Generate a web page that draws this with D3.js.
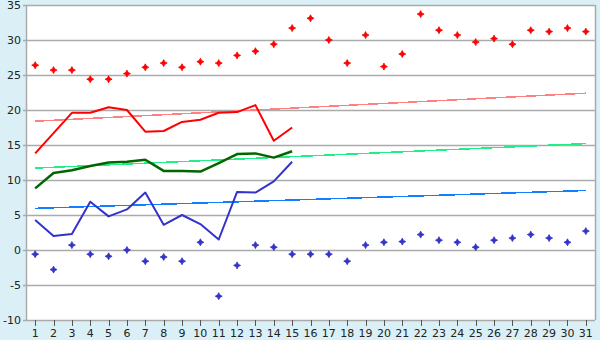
<!DOCTYPE html>
<html>
<head>
<meta charset="utf-8">
<script src="https://cdn.jsdelivr.net/npm/d3@7"></script>
<style>
  body { margin: 0; background: #daf0f6; }
  svg text { font-family: "DejaVu Sans", Verdana, sans-serif; font-size: 11px; fill: #222; }
</style>
</head>
<body>
<div id="chart"></div>
<script>
var width = 600,
  height = 340;

// days of the month
var days = d3.range(1, 32);
var yTicks = [35, 30, 25, 20, 15, 10, 5, 0, -5, -10];

// record highs / lows per day (markers)
var recordMax = [26.4, 25.7, 25.7, 24.4, 24.4, 25.2, 26.1, 26.7, 26.1, 26.9,
  26.7, 27.8, 28.4, 29.4, 31.7, 33.1, 30.0, 26.7, 30.7, 26.2,
  28.0, 33.7, 31.4, 30.7, 29.7, 30.2, 29.4, 31.4, 31.2, 31.7, 31.2];
var recordMin = [-0.6, -2.8, 0.7, -0.6, -0.9, 0.0, -1.6, -1.0, -1.6, 1.1,
  -6.6, -2.2, 0.7, 0.4, -0.6, -0.6, -0.6, -1.6, 0.7, 1.1,
  1.2, 2.2, 1.4, 1.1, 0.4, 1.4, 1.7, 2.2, 1.7, 1.1, 2.7];

// current month (days 1-15)
var curMax = [13.8, 16.7, 19.6, 19.6, 20.4, 20.0, 16.9, 17.0, 18.3, 18.6,
  19.6, 19.7, 20.7, 15.6, 17.5];
var curMean = [8.8, 11.0, 11.4, 12.0, 12.5, 12.6, 12.9, 11.3, 11.3, 11.2,
  12.4, 13.7, 13.8, 13.2, 14.1];
var curMin = [4.3, 2.0, 2.3, 6.9, 4.8, 5.8, 8.2, 3.6, 5.0, 3.7,
  1.5, 8.3, 8.2, 9.8, 12.6];

// normals: start and end values for day 1 and day 31
var normMax = [18.4, 22.4];
var normMean = [11.7, 15.2];
var normMin = [5.95, 8.5];

var svg = d3.select("#chart")
  .append("svg")
  .attr("width", width)
  .attr("height", height)
  .style("display", "block");

var plotL = 26, plotR = 595, plotT = 5, plotB = 320;

var x = d3.scaleBand()
  .domain(days)
  .range([plotL, plotR]);

var y = d3.scaleLinear()
  .domain([-10, 35])
  .range([plotB, plotT]);

function cx(d) { return x(d) + x.bandwidth() / 2; }

// plot background
svg.append("rect")
  .attr("x", plotL).attr("y", plotT)
  .attr("width", plotR - plotL).attr("height", plotB - plotT)
  .attr("fill", "#ffffff");

// grid lines
svg.append("g")
  .selectAll("line")
  .data(yTicks)
  .enter()
  .append("line")
  .attr("x1", plotL - 3).attr("x2", plotR)
  .attr("y1", function(d){ return Math.round(y(d)) + 0.5; })
  .attr("y2", function(d){ return Math.round(y(d)) + 0.5; })
  .attr("stroke", "#aaaaaa")
  .attr("stroke-width", 1.5);

// frame
svg.append("path")
  .attr("d", "M" + (plotL + 0.5) + "," + plotT + "V" + plotB + "M" + (plotR + 0.5) + "," + plotT + "V" + plotB)
  .attr("stroke", "#aaaaaa")
  .attr("stroke-width", 1.5)
  .attr("fill", "none");

// y labels
svg.append("g")
  .selectAll("text")
  .data(yTicks)
  .enter()
  .append("text")
  .attr("x", 21)
  .attr("y", function(d){ return y(d) + 4; })
  .attr("text-anchor", "end")
  .text(function(d){ return d; });

// x ticks and labels
var xAxis = svg.append("g");
xAxis.selectAll("line")
  .data(days)
  .enter()
  .append("line")
  .attr("x1", function(d){ return Math.round(cx(d)) + 0.5; })
  .attr("x2", function(d){ return Math.round(cx(d)) + 0.5; })
  .attr("y1", plotB).attr("y2", plotB + 6)
  .attr("stroke", "#555")
  .attr("stroke-width", 1);
xAxis.selectAll("text")
  .data(days)
  .enter()
  .append("text")
  .attr("x", cx)
  .attr("y", 337)
  .attr("text-anchor", "middle")
  .text(function(d){ return d; });

// normal lines
function drawNorm(vals, color) {
  svg.append("line")
    .attr("x1", cx(1)).attr("x2", cx(31))
    .attr("y1", y(vals[0])).attr("y2", y(vals[1]))
    .attr("stroke", color)
    .attr("stroke-width", 1.5)
    .attr("shape-rendering", "crispEdges");
}
drawNorm(normMax, "#ff8080");
drawNorm(normMean, "#22ee88");
drawNorm(normMin, "#1080ff");

// current month lines
var line = d3.line()
  .x(function(d, i){ return cx(days[i]); })
  .y(function(d){ return y(d); });

function drawLine(vals, color, w) {
  svg.append("path")
    .datum(vals)
    .attr("d", line)
    .attr("fill", "none")
    .attr("stroke", color)
    .attr("stroke-width", w)
    .attr("stroke-linejoin", "round");
}
drawLine(curMax, "#ff0000", 2);
drawLine(curMean, "#006600", 2.5);
drawLine(curMin, "#3333cc", 2);

// record markers
var diamond = "M0,-3.5L1.2,-1.2L3.5,0L1.2,1.2L0,3.5L-1.2,1.2L-3.5,0L-1.2,-1.2Z";
function drawMarks(vals, color) {
  svg.append("g")
    .selectAll("path")
    .data(vals)
    .enter()
    .append("path")
    .attr("d", diamond)
    .attr("transform", function(d, i){ return "translate(" + cx(days[i]) + "," + y(d) + ")"; })
    .attr("fill", color)
    .attr("stroke", color)
    .attr("stroke-width", 0.8);
}
drawMarks(recordMax, "#ff0000");
drawMarks(recordMin, "#3333cc");
</script>
</body>
</html>
